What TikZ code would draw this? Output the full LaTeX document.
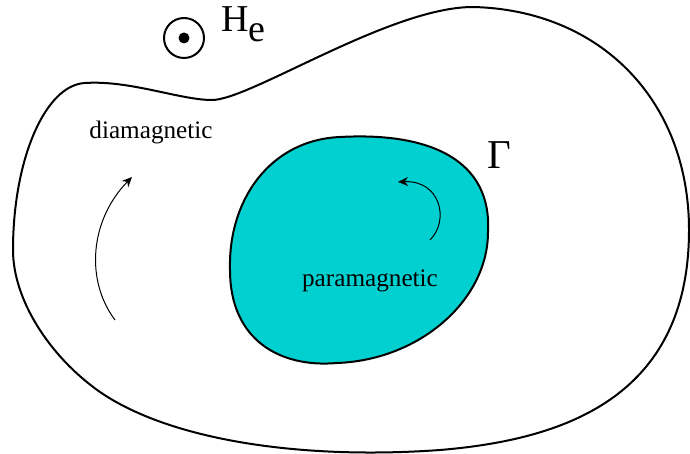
\documentclass[tikz,border=0pt]{standalone}
\usepackage{fontspec}
\setmainfont{Liberation Serif}
\usetikzlibrary{arrows.meta}
\definecolor{para}{RGB}{0,208,208}
\begin{document}
\begin{tikzpicture}[x=0.5pt,y=-0.5pt,
  bound/.style={line width=1pt,line join=round},
  flow/.style={line width=0.5pt,-{Stealth[length=5pt,width=4.5pt]}},
  lbl/.style={font=\fontsize{12.6}{14}\selectfont,inner sep=0pt}]
\useasboundingbox (0,0) rectangle (690,454);
% outer region
\draw[bound] (85,83) .. controls (130,80) and (180,100) .. (212,100)
  .. controls (250,100) and (390,7) .. (473,7)
  .. controls (600,10) and (689,100) .. (689,230)
  .. controls (689,400) and (560,440) .. (440,450)
  .. controls (300,460) and (170,440) .. (100,392)
  .. controls (50,357) and (13,300) .. (13,250)
  .. controls (13,160) and (45,85) .. (85,83) -- cycle;
% inner region
\draw[bound,fill=para] (340,137) .. controls (430,132) and (492,160) .. (488,232)
  .. controls (488,300) and (420,360) .. (337,363)
  .. controls (280,368) and (230,340) .. (230,270)
  .. controls (228,200) and (270,140) .. (340,137) -- cycle;
% field symbol
\node[circle,draw,line width=1pt,minimum size=20pt,inner sep=0pt] (he) at (184,38) {};
\fill (he.center) circle (5.5);
\node[anchor=west,inner sep=0pt,font=\fontsize{19}{22}\selectfont] (helbl) at (221,24) {H\raisebox{-0.55ex}{e}};
% labels
\node[lbl] (dia) at (151,132) {diamagnetic};
\node[lbl] (para) at (370,281) {paramagnetic};
\node[inner sep=0pt,font=\fontsize{20.5}{24}\selectfont] (gam) at (499,155) {Γ};
% circulation arrows
\coordinate (a1) at (115,320);
\coordinate (a1t) at (132,177);
\draw[flow] (a1) .. controls (85,280) and (90,220) .. (a1t);
\coordinate (a2) at (430,240);
\coordinate (a2t) at (398,182);
\draw[flow] (a2) .. controls (450,220) and (440,180) .. (a2t);
\end{tikzpicture}
\end{document}
